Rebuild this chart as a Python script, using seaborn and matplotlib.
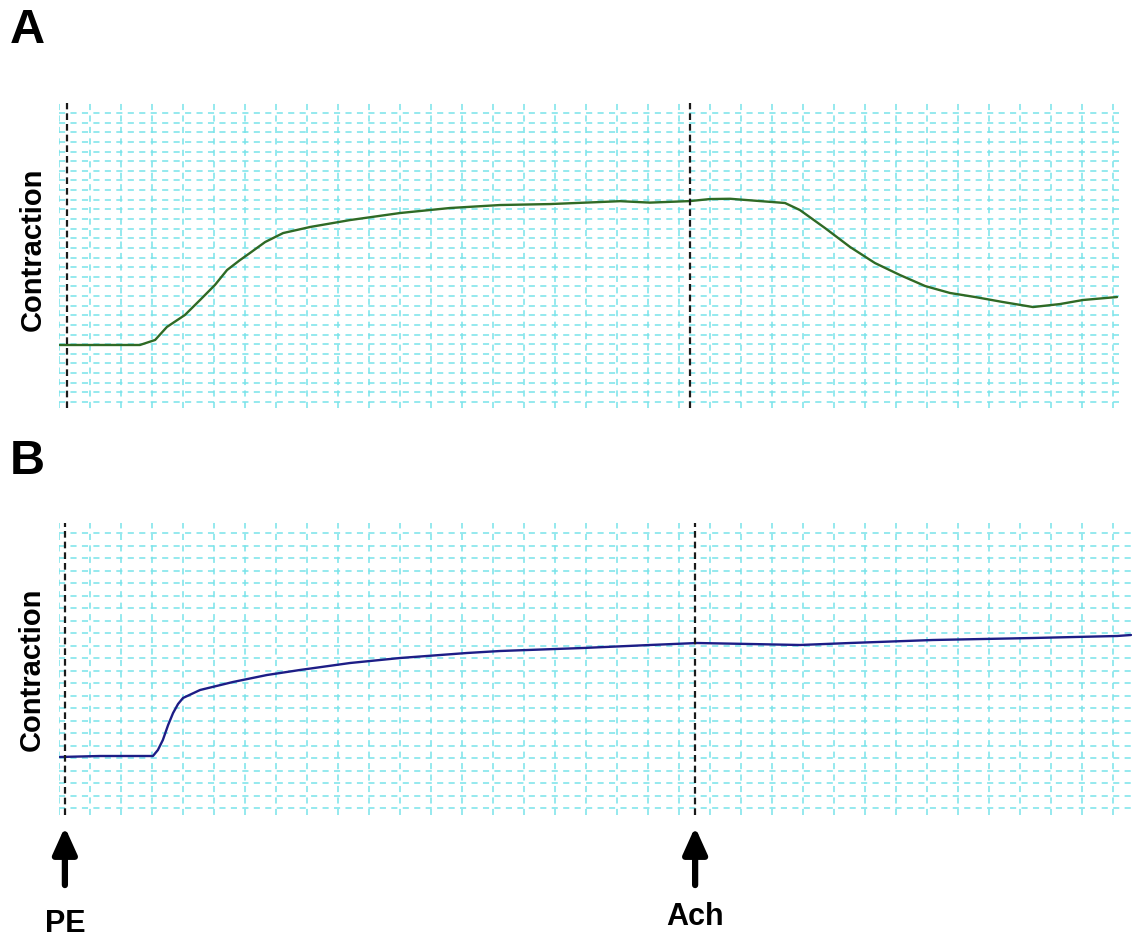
import numpy as np
import pandas as pd
import seaborn as sns
import matplotlib.pyplot as plt

# time in chart divisions, contraction in chart divisions
time_a = [0.03, 1.32, 2.61, 3.10, 3.48, 4.06, 4.55, 5.03, 5.42, 5.84, 6.16, 6.65, 7.23,
          8.10, 9.39, 11.0, 12.61, 14.23, 15.84, 17.45, 18.10, 19.06, 20.35, 21.0, 21.65,
          22.61, 23.42, 23.90, 24.71, 25.52, 26.32, 27.13, 27.94, 28.74, 29.55, 30.45,
          31.42, 32.29, 33.03, 34.13]
force_a = [5.92, 5.92, 5.92, 6.44, 7.79, 9.03, 10.59, 12.15, 13.70, 14.74, 15.47, 16.61,
           17.54, 18.17, 18.89, 19.62, 20.14, 20.45, 20.55, 20.76, 20.85, 20.70, 20.86,
           21.07, 21.10, 20.86, 20.66, 19.93, 18.06, 16.09, 14.43, 13.18, 12.04, 11.32,
           10.90, 10.38, 9.86, 10.17, 10.59, 10.90]

time_b = [0.03, 1.32, 3.03, 3.19, 3.35, 3.52, 3.68, 3.84, 4.00, 4.55, 5.61, 6.71, 7.77,
          9.39, 11.0, 13.16, 14.23, 16.90, 19.06, 20.58, 22.29, 23.90, 25.52, 28.19,
          31.42, 34.13, 34.58]
force_b = [4.08, 4.16, 4.16, 4.64, 5.44, 6.64, 7.60, 8.32, 8.80, 9.44, 10.08, 10.64, 11.04,
           11.60, 12.0, 12.40, 12.56, 12.80, 13.04, 13.20, 13.12, 13.04, 13.20, 13.44,
           13.60, 13.76, 13.84]

# drug additions (PE, Ach) in chart divisions
stim_a = [0.26, 20.35]
stim_b = [0.19, 20.52]
stim_labels = ['PE', 'Ach']

sns.set_style('white')
plt.rcParams['font.family'] = ['Liberation Sans', 'DejaVu Sans']
plt.rcParams['text.color'] = 'black'
plt.rcParams['axes.labelcolor'] = 'black'

W, H = 1135, 939
fig = plt.figure(figsize=(W / 100, H / 100), dpi=100)

GRID = '#78e3ea'
DIV_X = 31.0


def panel(rect_px, xmax, ylim, ny, t, f, stims, color):
    left, top, right, bottom = rect_px
    ax = fig.add_axes([left / W, 1 - bottom / H, (right - left) / W, (bottom - top) / H])
    df = pd.DataFrame({'time': t, 'force': f})
    sns.lineplot(data=df, x='time', y='force', ax=ax, color=color, lw=1.7)
    ax.set_xlim(0, xmax)
    ax.set_ylim(*ylim)
    ax.set_xticks(np.arange(0, int(xmax) + 1))
    ax.set_yticks(np.arange(0, ny + 1))
    ax.grid(True, color=GRID, linestyle=(0, (4, 3.5)), lw=1.1)
    ax.tick_params(length=0, labelbottom=False, labelleft=False)
    ax.set_xlabel('')
    for s in ax.spines.values():
        s.set_visible(False)
    for s in stims:
        ax.axvline(s, color='#1a1a1a', ls=(0, (3, 1.8)), lw=1.6, zorder=3)
    ax.set_ylabel('Contraction', fontsize=21, fontweight='bold')
    ax.yaxis.set_label_coords(-0.012, 0.5)
    return ax


ax_a = panel((59, 103.4, 59 + 34.2 * DIV_X, 407.8), 34.2, (-0.6, 31.0), 30,
             time_a, force_a, stim_a, '#2f6a25')
ax_b = panel((59, 523, 59 + 34.6 * DIV_X, 815), 34.6, (-0.56, 22.8), 22,
             time_b, force_b, stim_b, '#1d1d86')
ax_a.yaxis.set_label_coords(-0.012, 0.52)

tr = ax_b.get_xaxis_transform()
for s, lab, ty in zip(stim_b, stim_labels, [-0.375, -0.348]):
    ax_b.annotate('', xy=(s, -0.041), xytext=(s, -0.24), xycoords=tr, textcoords=tr,
                  annotation_clip=False,
                  arrowprops=dict(arrowstyle='-|>,head_width=0.36,head_length=0.8',
                                  mutation_scale=20, lw=4.5, color='black',
                                  shrinkA=0, shrinkB=0))
    ax_b.text(s, ty, lab, transform=tr, ha='center', va='center',
              fontsize=22, fontweight='bold', clip_on=False)

fig.text(10 / W, 1 - 43 / H, 'A', fontsize=35, fontweight='bold', ha='left', va='baseline')
fig.text(10 / W, 1 - 474 / H, 'B', fontsize=35, fontweight='bold', ha='left', va='baseline')

fig.savefig('out.png', dpi=100, facecolor='white')
